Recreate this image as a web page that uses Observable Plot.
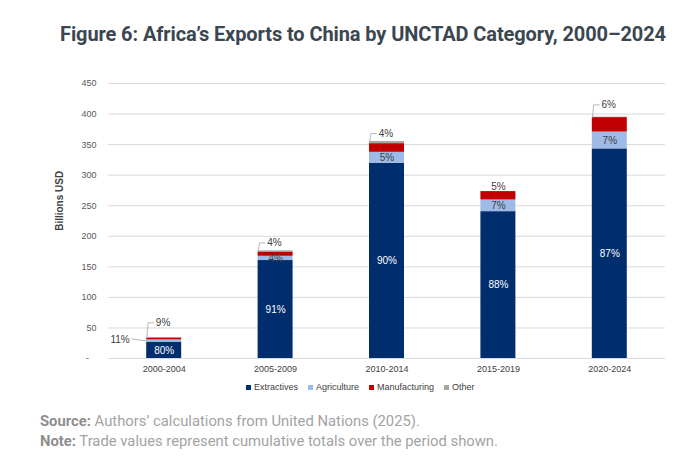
<!DOCTYPE html>
<html><head><meta charset="utf-8">
<script src="https://cdn.jsdelivr.net/npm/d3@7"></script>
<script src="https://cdn.jsdelivr.net/npm/@observablehq/plot@0.6"></script>
<style>
body{margin:0;background:#fff;width:700px;height:467px;position:relative;overflow:hidden}
#title{position:absolute;left:60px;top:22px;font:700 20px Roboto,sans-serif;color:#3b4750;white-space:nowrap;letter-spacing:-0.1px}
#chart{position:absolute;left:0;top:70px}
#legend{position:absolute;left:246px;top:381px;height:12px;display:flex;align-items:center;font:9px "Liberation Sans",Arial,sans-serif;color:#404040;white-space:nowrap}
#legend .item{display:flex;align-items:center;margin-right:10px}
#legend .sw{width:5px;height:5px;margin-right:3px}
#notes{position:absolute;left:40px;top:411px;font:14.8px Roboto,sans-serif;color:#a3a3a3;line-height:20px;white-space:nowrap}
#notes b{color:#8e8e8e;font-weight:700}
</style>
</head><body>
<div id="title">Figure 6: Africa’s Exports to China by UNCTAD Category, 2000–2024</div>
<div id="chart"></div>
<div id="legend"></div>
<div id="notes"><div><b>Source:</b> Authors’ calculations from United Nations (2025).</div><div><b>Note:</b> Trade values represent cumulative totals over the period shown.</div></div>
<script>
// ---- data ----
const periods = ["2000-2004", "2005-2009", "2010-2014", "2015-2019", "2020-2024"];
const categories = ["Extractives", "Agriculture", "Manufacturing", "Other"];
const extractives = [26.8, 160.3, 319.6, 240.3, 343.0];
const agriculture = [3.7, 7.0, 17.8, 19.1, 27.6];
const manufacturing = [3.0, 7.0, 14.2, 13.7, 23.6];
const other = [0.0, 1.9, 3.5, 0.0, 0.8];
const extractivesPct = ["80%", "91%", "90%", "88%", "87%"];
const agriculturePct = ["11%", "4%", "5%", "7%", "7%"];
const manufacturingPct = ["9%", "4%", "4%", "5%", "6%"];
const yTicks = [0, 50, 100, 150, 200, 250, 300, 350, 400, 450];

// ---- styles / layout ----
const colors = ["#002d6e", "#9dbbe6", "#c00000", "#a6a6a6"];
const font = "'Liberation Sans', Arial, sans-serif";
const HW = 0.157;                       // half bar width in band units
const mfgLift = [25, 13, 13, 8, 20];    // label lift above bar (value units)
const mfgLeader = [true, true, true, false, true];

const series = [extractives, agriculture, manufacturing, other];
const rows = [];
periods.forEach((p, i) => {
  let acc = 0;
  series.forEach((arr, k) => {
    rows.push({i, period: p, category: categories[k], y1: acc, y2: acc + arr[i]});
    acc += arr[i];
  });
});
const idx = periods.map((p, i) => i);
const total = i => series.reduce((s, arr) => s + arr[i], 0);

const agriOutside = idx.filter(i => agriculture[i] < 5);
const agriInside = idx.filter(i => agriculture[i] >= 5);
const agriMid = i => extractives[i] + agriculture[i] / 2;

const leaders = [];
idx.forEach(i => {
  if (!mfgLeader[i]) return;
  const t = total(i), l = t + mfgLift[i];
  leaders.push({i, x: i - HW + 0.002, y: t});
  leaders.push({i, x: i - HW + 0.012, y: l});
  leaders.push({i, x: i - 0.095, y: l});
});
agriOutside.forEach(i => {
  leaders.push({i: 100 + i, x: i - 0.293, y: agriMid(i) + 3.3});
  leaders.push({i: 100 + i, x: i - HW, y: agriMid(i)});
});

const chart = Plot.plot({
  width: 700,
  height: 313,
  marginTop: 13,
  marginBottom: 25,
  marginLeft: 108,
  marginRight: 35,
  style: {fontFamily: font, background: "white", overflow: "visible"},
  x: {domain: [-0.5, 4.5], axis: null},
  y: {domain: [0, 450], axis: null},
  color: {domain: categories, range: colors},
  marks: [
    Plot.gridY(yTicks, {stroke: "#d9d9d9", strokeOpacity: 1, strokeWidth: 1}),
    Plot.axisY(yTicks, {tickSize: 0, tickPadding: 12, fontSize: 9, fill: "#595959",
      tickFormat: d => d === 0 ? "-\u00a0\u00a0\u00a0" : String(d), label: null}),
    Plot.axisX(idx, {tickSize: 0, tickPadding: 7, fontSize: 9, fill: "#404040",
      tickFormat: i => periods[i], label: null}),
    Plot.text(["Billions USD"], {x: -0.5, y: 258, dx: -49, rotate: -90,
      fontWeight: "bold", fontSize: 10, fill: "#404040"}),
    Plot.rect(rows, {x1: d => d.i - HW, x2: d => d.i + HW, y1: "y1", y2: "y2", fill: "category"}),
    Plot.line(leaders, {x: "x", y: "y", z: "i", stroke: "#a6a6a6", strokeWidth: 0.8}),
    Plot.text(idx, {x: i => i, y: i => extractives[i] / 2, text: i => extractivesPct[i],
      fill: "white", fontSize: 10}),
    Plot.text(agriInside, {x: i => i, y: agriMid, text: i => agriculturePct[i],
      fill: "#404040", fontSize: 10}),
    Plot.text(agriOutside, {x: i => i - 0.31, y: i => agriMid(i) + 2, text: i => agriculturePct[i],
      fill: "#404040", fontSize: 10, textAnchor: "end"}),
    Plot.text(idx.filter(i => mfgLeader[i]), {x: i => i - 0.075, y: i => total(i) + mfgLift[i],
      text: i => manufacturingPct[i], fill: "#404040", fontSize: 10, textAnchor: "start"}),
    Plot.text(idx.filter(i => !mfgLeader[i]), {x: i => i, y: i => total(i) + mfgLift[i],
      text: i => manufacturingPct[i], fill: "#404040", fontSize: 10})
  ]
});
document.getElementById("chart").appendChild(chart);

const legend = document.getElementById("legend");
categories.forEach((c, k) => {
  const item = document.createElement("div");
  item.className = "item";
  const sw = document.createElement("div");
  sw.className = "sw";
  sw.style.background = colors[k];
  const t = document.createElement("span");
  t.textContent = c;
  item.appendChild(sw); item.appendChild(t);
  legend.appendChild(item);
});
</script>
</body></html>
